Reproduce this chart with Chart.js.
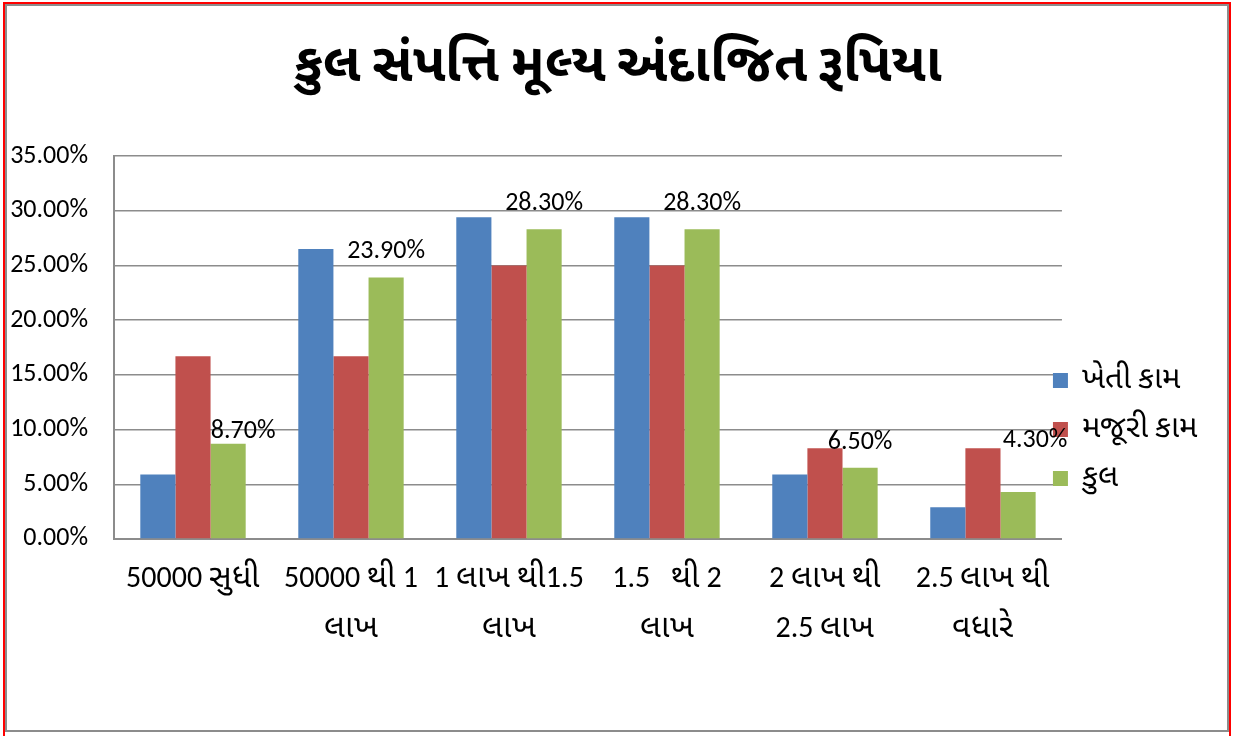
<!DOCTYPE html>
<html>
<head>
<meta charset="utf-8">
<script src="https://cdn.jsdelivr.net/npm/chart.js@4"></script>
<style>
  /* Gujarati glyphs come out small in the fallback font, so scale them up */
  @font-face {
    font-family: 'GujBig';
    src: local('Noto Sans Gujarati'), local('NotoSansGujarati-Regular'), local('Noto Sans Gujarati UI'), local('Lohit Gujarati'), local('Lohit-Gujarati');
    unicode-range: U+0A80-0AFF;
    size-adjust: 107%;
    font-weight: normal;
  }
  @font-face {
    font-family: 'GujBig';
    src: local('Noto Sans Gujarati Bold'), local('NotoSansGujarati-Bold'), local('Noto Sans Gujarati UI Bold'), local('Lohit Gujarati'), local('Lohit-Gujarati');
    unicode-range: U+0A80-0AFF;
    size-adjust: 107%;
    font-weight: bold;
  }
  html, body { margin: 0; padding: 0; background: #fff; }
  #wrap { width: 1233px; height: 736px; }
</style>
</head>
<body>
<div id="wrap"><canvas id="assetChart" width="1233" height="736"></canvas></div>
<script>
const categories = [
    '50000 સુધી',
    ['50000 થી 1', 'લાખ'],
    ['1 લાખ થી1.5', 'લાખ'],
    ['1.5   થી 2', 'લાખ'],
    ['2 લાખ થી', '2.5 લાખ'],
    ['2.5 લાખ થી', 'વધારે']
];
const seriesNames = ['ખેતી કામ', 'મજૂરી કામ', 'કુલ'];
const khetiKam = [5.9, 26.5, 29.4, 29.4, 5.9, 2.9];
const majuriKam = [16.7, 16.7, 25.0, 25.0, 8.3, 8.3];
const kul = [8.7, 23.9, 28.3, 28.3, 6.5, 4.3];
const yTicks = [0, 5, 10, 15, 20, 25, 30, 35];

const FONT = "GujBig, Calibri, Carlito, Lato, 'Noto Sans', sans-serif";

// frame round the whole chart
const framePlugin = {
    id: 'frame',
    beforeDraw(chart) {
        const c = chart.ctx;
        c.save();
        c.fillStyle = '#fff';
        c.fillRect(0, 0, chart.width, chart.height);
        c.strokeStyle = '#8c8c8c';
        c.lineWidth = 2;
        c.strokeRect(6, 5, 1222, 726);
        c.strokeStyle = '#ff0000';
        c.lineWidth = 2;
        c.beginPath();
        c.moveTo(4, 736); c.lineTo(4, 3); c.lineTo(1230, 3); c.lineTo(1230, 736);
        c.stroke();
        c.restore();
    }
};

// legend sits a little over the plot area in the original
const legendShift = {
    id: 'legendShift',
    afterLayout(chart) {
        const lg = chart.legend;
        lg.left -= 29; lg.right -= 29;
        lg.top += 98; lg.bottom += 98;
    }
};

// value labels on the total series, nudged like the original
const labelShift = [[15, 6], [0, 19], [0, 19], [0, 19], [0, 19], [17, 45]];
const valueLabels = {
    id: 'valueLabels',
    afterDatasetsDraw(chart) {
        const c = chart.ctx;
        const meta = chart.getDatasetMeta(2);
        c.save();
        c.font = '26px ' + FONT;
        c.fillStyle = '#000';
        c.textAlign = 'center';
        c.textBaseline = 'alphabetic';
        meta.data.forEach(function(bar, i) {
            const s = labelShift[i];
            c.fillText(kul[i].toFixed(2) + '%', bar.x + s[0], bar.y - s[1]);
        });
        c.restore();
    }
};

function drawChart() {
    const ctx = document.getElementById('assetChart');
    new Chart(ctx, {
        type: 'bar',
        data: {
            labels: categories,
            datasets: [
                { label: seriesNames[0], data: khetiKam, backgroundColor: '#4F81BD' },
                { label: seriesNames[1], data: majuriKam, backgroundColor: '#C0504D' },
                { label: seriesNames[2], data: kul, backgroundColor: '#9BBB59' }
            ]
        },
        options: {
            responsive: false,
            animation: false,
            layout: { padding: { left: 0, right: -3, top: 0, bottom: 73 } },
            datasets: {
                bar: { categoryPercentage: 0.667, barPercentage: 1.0 }
            },
            scales: {
                x: {
                    grid: { display: false },
                    border: { color: '#8c8c8c', width: 2 },
                    ticks: {
                        color: '#000',
                        font: { family: FONT, size: 30, lineHeight: 1.667 },
                        padding: 8,
                        maxRotation: 0,
                        autoSkip: false
                    }
                },
                y: {
                    min: 0,
                    max: 35,
                    afterBuildTicks(axis) {
                        axis.ticks = yTicks.map(v => ({ value: v }));
                    },
                    afterFit(axis) {
                        axis.width = 114;
                    },
                    grid: { color: '#8c8c8c', lineWidth: 1.5, drawTicks: false },
                    border: { color: '#8c8c8c', width: 2 },
                    ticks: {
                        color: '#000',
                        font: { family: FONT, size: 26 },
                        padding: 26,
                        callback: v => v.toFixed(2) + '%'
                    }
                }
            },
            plugins: {
                title: {
                    display: true,
                    text: 'કુલ સંપત્તિ મૂલ્ય અંદાજિત રૂપિયા',
                    color: '#000',
                    font: { family: FONT, size: 50, weight: 'bold' },
                    padding: { top: 38, bottom: 58 }
                },
                legend: {
                    position: 'right',
                    labels: {
                        color: '#000',
                        font: { family: FONT, size: 29 },
                        boxWidth: 15,
                        boxHeight: 15,
                        padding: 20
                    }
                },
                tooltip: { enabled: false }
            }
        },
        plugins: [framePlugin, legendShift, valueLabels]
    });
}

Promise.all([
    document.fonts.load('26px GujBig', 'ક'),
    document.fonts.load('bold 42px GujBig', 'ક')
]).then(drawChart, drawChart);
</script>
</body>
</html>
